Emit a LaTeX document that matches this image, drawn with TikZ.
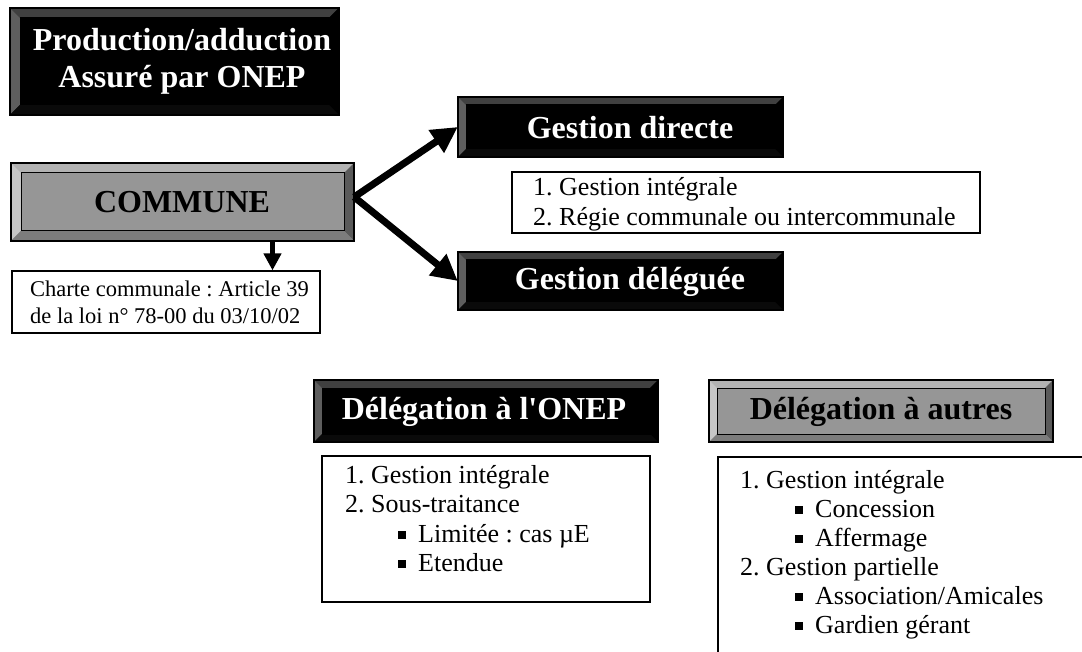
\documentclass[tikz,border=0pt]{standalone}
\usepackage{fontspec}
\setmainfont{Liberation Serif}
\usetikzlibrary{arrows.meta,fit}
\definecolor{blkface}{HTML}{000000}
\definecolor{blktop}{HTML}{404040}
\definecolor{blkleft}{HTML}{5E5E5E}
\definecolor{blkright}{HTML}{000000}
\definecolor{blkbot}{HTML}{0A0A0A}
\definecolor{gryface}{HTML}{969696}
\definecolor{grytop}{HTML}{B2B2B2}
\definecolor{gryleft}{HTML}{C6C6C6}
\definecolor{gryright}{HTML}{5A5A5A}
\definecolor{grybot}{HTML}{7C7C7C}
% bevelled box: name, x1, y1, x2, y2, depth, colour prefix
\newcommand\mybev[7]{%
  \fill[#7face] (#2,#3) rectangle (#4,#5);
  \fill[#7top] (#2,#3) -- (#4,#3) -- (#4-#6,#3+#6) -- (#2+#6,#3+#6) -- cycle;
  \fill[#7left] (#2,#3) -- (#2+#6,#3+#6) -- (#2+#6,#5-#6) -- (#2,#5) -- cycle;
  \fill[#7right] (#4,#3) -- (#4,#5) -- (#4-#6,#5-#6) -- (#4-#6,#3+#6) -- cycle;
  \fill[#7bot] (#2,#5) -- (#4,#5) -- (#4-#6,#5-#6) -- (#2+#6,#5-#6) -- cycle;
  \draw[line width=1pt] (#2+#6,#3+#6) rectangle (#4-#6,#5-#6);
  \draw[line width=1.2pt] (#2,#3) rectangle (#4,#5);
  \node[fit={(#2,#3) (#4,#5)}, inner sep=0pt] (#1) {};
}
\newcommand\sqb{\rule[0.12em]{8pt}{8pt}\hspace{12pt}}
\frenchspacing
\begin{document}
\begin{tikzpicture}[x=1pt,y=-1pt,
  ttl/.style={inner sep=0pt, align=center, font=\fontsize{32}{37}\selectfont\bfseries},
  lst/.style={anchor=base west, inner sep=0pt, font=\fontsize{26}{30}\selectfont},
  chl/.style={anchor=base west, inner sep=0pt, font=\fontsize{22.5}{26}\selectfont},
  txtbox/.style={draw, line width=1.2pt, inner sep=0pt},
  bigarrow/.style={line width=7pt, -{Triangle[length=26pt,width=26pt]}},
  downarrow/.style={line width=5pt, -{Triangle[length=17pt,width=17pt]}}
]
\useasboundingbox (0,0) rectangle (1082,652);
\clip (0,0) rectangle (1082,652);
\fill[white] (0,0) rectangle (1082,652);

% bevelled boxes
\mybev{prod}{10}{8}{339}{115}{10}{blk}
\mybev{comm}{11}{163}{354}{241}{10}{gry}
\mybev{gdir}{458}{97}{783}{157}{8}{blk}
\mybev{gdel}{458}{252}{783}{310}{8}{blk}
\mybev{donep}{314}{380}{658}{442}{8}{blk}
\mybev{dautr}{709}{380}{1053}{442}{8}{gry}

% titles
\node[ttl, text=white] (prodt) at (182,61) {Production/adduction\\Assuré par ONEP};
\node[ttl] (commt) at (182,202) {COMMUNE};
\node[ttl, text=white] (gdirt) at (630,128) {Gestion directe};
\node[ttl, text=white] (gdelt) at (630,282) {Gestion déléguée};
\node[ttl, text=white] (donept) at (484,412) {Délégation à l\textquotesingle ONEP};
\node[ttl] (dautrt) at (881,412) {Délégation à autres};

% text boxes
\node[txtbox, fit={(512,172) (980,233)}] (tb1) {};
\node[txtbox, fit={(12,271) (320,333)}] (charte) {};
\node[txtbox, fit={(322,456) (650,602)}] (tb2) {};
\node[txtbox, fit={(718,457) (1120,700)}] (tb3) {};

% text box contents
\node[lst] (l11) at (533,196) {1. Gestion intégrale};
\node[lst] (l12) at (533,226) {2. Régie communale ou intercommunale};

\node[chl] (c1) at (30,297) {Charte communale : Article 39};
\node[chl] (c2) at (30,324) {de la loi n° 78-00 du 03/10/02};

\node[lst] (l21) at (345,483) {1. Gestion intégrale};
\node[lst] (l22) at (345,512) {2. Sous-traitance};
\node[lst] (l23) at (398,542) {\sqb Limitée : cas µE};
\node[lst] (l24) at (398,571) {\sqb Etendue};

\node[lst] (l31) at (740,488) {1. Gestion intégrale};
\node[lst] (l32) at (795,517) {\sqb Concession};
\node[lst] (l33) at (795,546) {\sqb Affermage};
\node[lst] (l34) at (740,575) {2. Gestion partielle};
\node[lst] (l35) at (795,604) {\sqb Association/Amicales};
\node[lst] (l36) at (795,633) {\sqb Gardien gérant};

% connectors
\draw[bigarrow] ([yshift=5pt]comm.east) -- (gdir.west);
\draw[bigarrow] ([yshift=5pt]comm.east) -- (gdel.west);
\draw[downarrow] ([xshift=90pt]comm.south) -- ([xshift=90pt]comm.south |- charte.north);
\end{tikzpicture}
\end{document}
